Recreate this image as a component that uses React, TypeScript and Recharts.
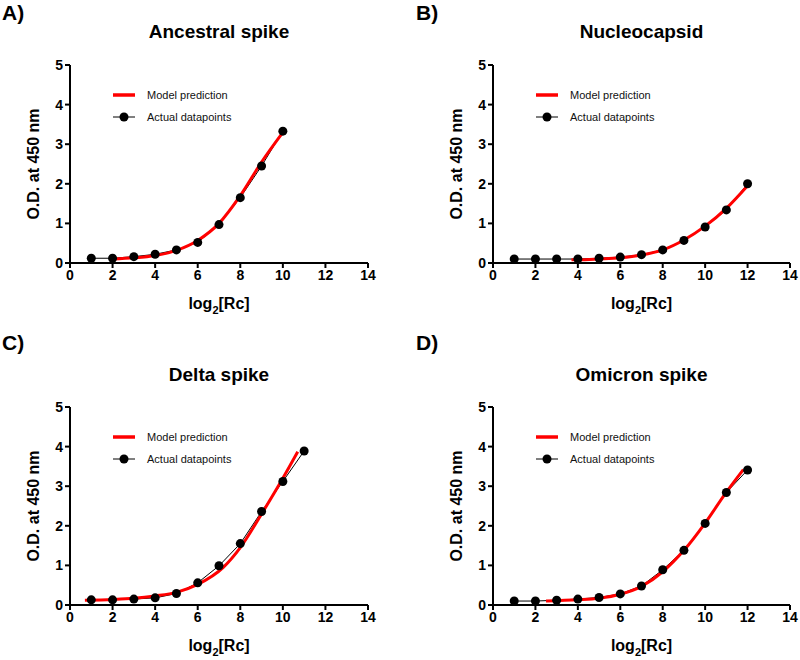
import { LineChart, Line, XAxis, YAxis } from "recharts";

const FONT = '"Liberation Sans", Arial, Helvetica, sans-serif';

// x positions (log2 of reciprocal dilution) and O.D. readings per antigen
const ancestralX = [1, 2, 3, 4, 5, 6, 7, 8, 9, 10];
const ancestralOD = [0.12, 0.12, 0.16, 0.22, 0.33, 0.52, 0.97, 1.65, 2.45, 3.33];
const ancestralModelX = [2, 3, 4, 5, 6, 7, 8, 9, 10];
const ancestralModelOD = [0.1, 0.13, 0.19, 0.32, 0.57, 1.0, 1.7, 2.55, 3.3];

const nucleoX = [1, 2, 3, 4, 5, 6, 7, 8, 9, 10, 11, 12];
const nucleoOD = [0.1, 0.1, 0.1, 0.1, 0.12, 0.15, 0.21, 0.33, 0.57, 0.91, 1.34, 2.0];
const nucleoModelX = [3.7, 4, 5, 6, 7, 8, 9, 10, 11, 12];
const nucleoModelOD = [0.08, 0.08, 0.1, 0.13, 0.2, 0.33, 0.58, 0.93, 1.38, 1.95];

const deltaX = [1, 2, 3, 4, 5, 6, 7, 8, 9, 10, 11];
const deltaOD = [0.13, 0.13, 0.15, 0.18, 0.29, 0.56, 0.99, 1.55, 2.36, 3.12, 3.89];
const deltaModelX = [0.7, 2, 3, 4, 5, 6, 7.2, 8, 9, 10, 10.7];
const deltaModelOD = [0.12, 0.14, 0.17, 0.23, 0.32, 0.52, 0.95, 1.45, 2.3, 3.2, 3.87];

const omicronX = [1, 2, 3, 4, 5, 6, 7, 8, 9, 10, 11, 12];
const omicronOD = [0.1, 0.1, 0.12, 0.15, 0.19, 0.28, 0.48, 0.89, 1.38, 2.06, 2.84, 3.41];
const omicronModelX = [2.5, 4, 5, 6, 7, 8, 9, 10, 11, 11.8];
const omicronModelOD = [0.1, 0.13, 0.17, 0.27, 0.47, 0.84, 1.38, 2.07, 2.85, 3.42];

const xTicks = [0, 2, 4, 6, 8, 10, 12, 14];
const yTicks = [0, 1, 2, 3, 4, 5];

const zip = (xs: number[], ys: number[]) => xs.map((x, i) => ({ x, y: ys[i] }));

type Box = { left: number; right: number; top: number; bottom: number };

const Y_AXIS_W = 40;
const X_AXIS_H = 30;
const W = 400;
const H = 330;

function Panel({
  tag,
  title,
  actual,
  model,
  box,
  titleY,
}: {
  tag: string;
  title: string;
  actual: { x: number; y: number }[];
  model: { x: number; y: number }[];
  box: Box;
  titleY: number;
}) {
  const plotMid = (box.left + box.right) / 2;
  const tickStyle = { fill: "#000", fontSize: 14, fontWeight: 700, fontFamily: FONT };
  const axisStyle = { stroke: "#000", strokeWidth: 2 };

  return (
    <div style={{ position: "relative", width: W, height: H }}>
      <LineChart
        width={W}
        height={H}
        margin={{
          top: box.top,
          right: W - box.right,
          bottom: H - box.bottom - X_AXIS_H,
          left: box.left - Y_AXIS_W,
        }}
      >
        <XAxis
          type="number"
          dataKey="x"
          domain={[0, 14]}
          ticks={xTicks}
          height={X_AXIS_H}
          axisLine={axisStyle}
          tickLine={axisStyle}
          tickSize={5}
          tick={tickStyle}
          allowDataOverflow
          label={{
            content: () => (
              <text
                x={plotMid}
                y={box.bottom + 46}
                textAnchor="middle"
                fontFamily={FONT}
                fontWeight={700}
                fontSize={16}
                fill="#000"
              >
                log
                <tspan fontSize={11} dy={5}>
                  2
                </tspan>
                <tspan dy={-5}>[Rc]</tspan>
              </text>
            ),
          }}
        />
        <YAxis
          type="number"
          dataKey="y"
          domain={[0, 5]}
          ticks={yTicks}
          width={Y_AXIS_W}
          axisLine={axisStyle}
          tickLine={axisStyle}
          tickSize={5}
          tick={tickStyle}
          allowDataOverflow
          label={{
            content: () => (
              <text
                x={box.left - 35}
                y={(box.top + box.bottom) / 2}
                transform={`rotate(-90 ${box.left - 35} ${(box.top + box.bottom) / 2})`}
                textAnchor="middle"
                dominantBaseline="middle"
                fontFamily={FONT}
                fontWeight={700}
                fontSize={16}
                fill="#000"
              >
                O.D. at 450 nm
              </text>
            ),
          }}
        />
        <Line
          data={actual}
          dataKey="y"
          stroke="#000"
          strokeWidth={1}
          dot={{ r: 4.5, fill: "#000", stroke: "#000", strokeWidth: 0 }}
          activeDot={false}
          isAnimationActive={false}
        />
        <Line
          data={model}
          dataKey="y"
          type="monotone"
          stroke="#ff0000"
          strokeWidth={3}
          dot={false}
          activeDot={false}
          isAnimationActive={false}
        />
      </LineChart>

      <div
        style={{
          position: "absolute",
          left: tag === "A)" || tag === "C)" ? 2 : 16,
          top: 1,
          fontFamily: FONT,
          fontWeight: 700,
          fontSize: 21,
        }}
      >
        {tag}
      </div>
      <div
        style={{
          position: "absolute",
          left: plotMid - 150,
          width: 300,
          top: titleY,
          textAlign: "center",
          fontFamily: FONT,
          fontWeight: 700,
          fontSize: 19,
        }}
      >
        {title}
      </div>

      <div
        style={{
          position: "absolute",
          left: box.left + 43,
          top: box.top + 19,
          fontFamily: FONT,
          fontSize: 11,
          color: "#111",
          lineHeight: "22px",
        }}
      >
        <div style={{ display: "flex", alignItems: "center" }}>
          <svg width={22} height={6} style={{ marginRight: 12 }}>
            <line x1={0} y1={3} x2={22} y2={3} stroke="#ff0000" strokeWidth={3.5} />
          </svg>
          Model prediction
        </div>
        <div style={{ display: "flex", alignItems: "center" }}>
          <svg width={22} height={10} style={{ marginRight: 12 }}>
            <line x1={0} y1={5} x2={22} y2={5} stroke="#000" strokeWidth={1} />
            <circle cx={11} cy={5} r={4.5} fill="#000" />
          </svg>
          Actual datapoints
        </div>
      </div>
    </div>
  );
}

export default function App() {
  return (
    <div
      style={{
        position: "absolute",
        left: 0,
        top: 0,
        width: 800,
        height: 660,
        background: "#fff",
        display: "grid",
        gridTemplateColumns: "400px 400px",
        gridTemplateRows: "330px 330px",
      }}
    >
      <Panel
        tag="A)"
        title="Ancestral spike"
        actual={zip(ancestralX, ancestralOD)}
        model={zip(ancestralModelX, ancestralModelOD)}
        box={{ left: 70, right: 368, top: 65, bottom: 263 }}
        titleY={21}
      />
      <Panel
        tag="B)"
        title="Nucleocapsid"
        actual={zip(nucleoX, nucleoOD)}
        model={zip(nucleoModelX, nucleoModelOD)}
        box={{ left: 93, right: 390, top: 65, bottom: 263 }}
        titleY={21}
      />
      <Panel
        tag="C)"
        title="Delta spike"
        actual={zip(deltaX, deltaOD)}
        model={zip(deltaModelX, deltaModelOD)}
        box={{ left: 70, right: 368, top: 77, bottom: 275 }}
        titleY={34}
      />
      <Panel
        tag="D)"
        title="Omicron spike"
        actual={zip(omicronX, omicronOD)}
        model={zip(omicronModelX, omicronModelOD)}
        box={{ left: 93, right: 390, top: 77, bottom: 275 }}
        titleY={34}
      />
    </div>
  );
}
